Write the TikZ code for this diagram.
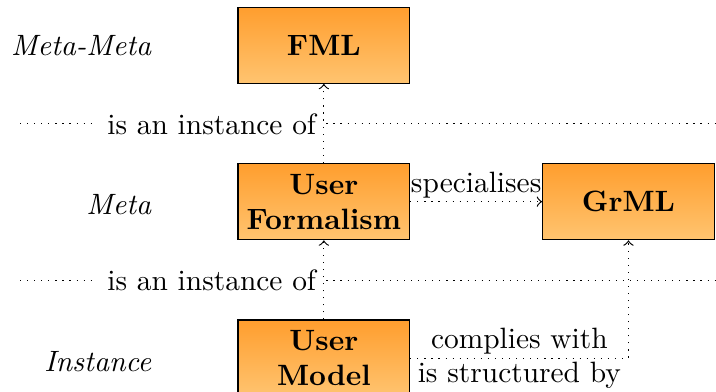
\documentclass[tikz,border=0pt]{standalone}
\usepackage{tikz}
\usetikzlibrary{positioning,arrows.meta,calc}

\definecolor{boxtop}{RGB}{255,158,46}
\definecolor{boxbottom}{RGB}{255,196,112}

\begin{document}
\begin{tikzpicture}[
  >=to,
  model/.style={rectangle,draw=black,top color=boxtop,bottom color=boxbottom,
                minimum width=2.05cm,minimum height=0.91cm,inner sep=1pt,
                align=center,font=\bfseries},
  layer/.style={anchor=east,font=\itshape},
  rel/.style={dotted,->}]

\useasboundingbox (0,0) rectangle (8.556,-4.684);

% ============ Layers ============
\node[layer] (lmm) at (1.93,-0.54) {Meta-Meta};
\node[layer] (lm)  at (1.93,-2.45) {Meta};
\node[layer] (li)  at (1.93,-4.32) {Instance};

% ============ Models ============
\node[model] (fml)  at (3.87,-0.54) {FML};
\node[model] (uf)   at (3.87,-2.41) {User\\Formalism};
\node[model] (grml) at (7.51,-2.41) {GrML};
\node[model] (um)   at (3.87,-4.28) {User\\Model};

% ============ Layer separators ============
\node[anchor=east] (inst1) at (3.90,-1.48) {is an instance of};
\node[anchor=east] (inst2) at (3.90,-3.35) {is an instance of};
\coordinate (l1) at (0.24,-1.48);
\coordinate (r1) at (8.556,-1.48);
\coordinate (l2) at (0.24,-3.35);
\coordinate (r2) at (8.556,-3.35);
\draw[dotted] (l1) -- (inst1.west);
\draw[dotted] (inst1.east) -- (r1);
\draw[dotted] (l2) -- (inst2.west);
\draw[dotted] (inst2.east) -- (r2);

% ============ Relations ============
\draw[rel] (uf) -- (fml);
\draw[rel] (um) -- (uf);
\draw[rel] (uf) -- node[above,inner sep=1pt] {specialises} (grml);
\draw[rel] (um.east) -| (grml.south)
  node[pos=0.25,above,inner sep=1pt] {complies with}
  node[pos=0.25,below,inner sep=1pt] {is structured by};

\end{tikzpicture}
\end{document}
